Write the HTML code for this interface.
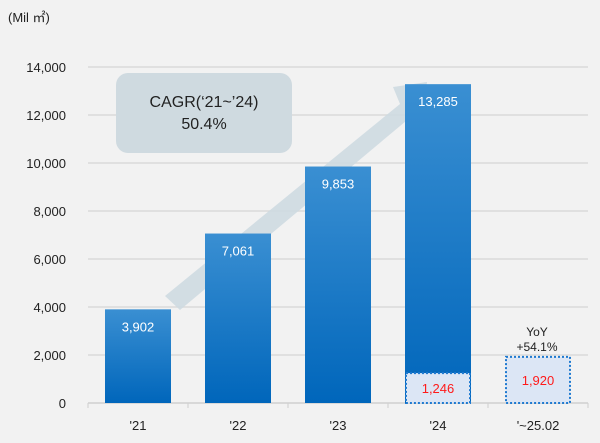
<!DOCTYPE html>
<html><head><meta charset="utf-8"><style>
body{margin:0;background:#f2f2f2;font-family:"Liberation Sans","Noto Sans CJK KR",sans-serif}
svg{display:block}
</style></head><body>
<svg width="600" height="443" viewBox="0 0 600 443">
<defs><linearGradient id="g" x1="0" y1="0" x2="0" y2="1"><stop offset="0" stop-color="#3a8fd2"/><stop offset="1" stop-color="#0066bb"/></linearGradient></defs>
<rect width="600" height="443" fill="#f2f2f2"/>
<text x="8" y="22" font-size="13" fill="#222">(Mil ㎡)</text>
<g id="grid"></g>
<g id="yt"></g>
<polygon points="165,296 400,104 393,87 427,82 420,132 412,116 180,310" fill="#cdd9e0" opacity="0.85"/>
<rect x="116" y="73" width="176" height="80" rx="12" fill="#cfdae0"/>
<text x="204" y="107" font-size="16" text-anchor="middle" fill="#222">CAGR(‘21~’24)</text>
<text x="204" y="129" font-size="16" text-anchor="middle" fill="#222">50.4%</text>
<g id="bars"></g>
<g id="xt"></g>
<text x="537" y="336" font-size="12" text-anchor="middle" fill="#222">YoY</text>
<text x="537" y="351" font-size="12" text-anchor="middle" fill="#222">+54.1%</text>
</svg>
<script>
const categories=["'21","'22","'23","'24","'~25.02"];
const totals=[3902,7061,9853,13285,null];
const partial=[null,null,null,1246,1920];
const yTicks=[0,2000,4000,6000,8000,10000,12000,14000];
const NS="http://www.w3.org/2000/svg";
const x0=88,bw=100,barW=66,yBase=403,yTop=67,yMax=14000;
const y=v=>yBase-(v/yMax)*(yBase-yTop);
const xc=i=>x0+bw*i+bw/2;
function mk(t,a,p,txt){const e=document.createElementNS(NS,t);for(const k in a)e.setAttribute(k,a[k]);if(txt!=null)e.textContent=txt;p.appendChild(e);return e;}
const grid=document.getElementById('grid'),yt=document.getElementById('yt'),bars=document.getElementById('bars'),xt=document.getElementById('xt');
yTicks.forEach(v=>{
 const l=mk('line',{x1:x0,x2:588,y1:y(v),y2:y(v),stroke:v===0?'#cfcfcf':'#d9d9d9','stroke-width':1.5},grid);
 
 
 const t=mk('text',{x:66,y:y(v)+5,'font-size':13,'text-anchor':'end',fill:'#222'},yt,v.toLocaleString('en-US'));
 
 
});
for(let i=0;i<=categories.length;i++){
 const l=mk('line',{x1:x0+bw*i,x2:x0+bw*i,y1:yBase,y2:yBase+5,stroke:'#cfcfcf'},xt);
 
 
}
categories.forEach((c,i)=>{
 const t=mk('text',{x:xc(i),y:430,'font-size':13,'text-anchor':'middle',fill:'#222'},xt,c);
 
 
 const bx=xc(i)-barW/2;
 if(totals[i]!=null){
  const r=mk('rect',{x:bx,y:y(totals[i]),width:barW,height:yBase-y(totals[i]),fill:'url(#g)'},bars);
  
  
  const t2=mk('text',{x:xc(i),y:y(totals[i])+22,'font-size':13,'text-anchor':'middle',fill:'#fff'},bars,totals[i].toLocaleString('en-US'));
  
  
 }
 if(partial[i]!=null){
  const r=mk('rect',{x:bx+1,y:y(partial[i]),width:barW-2,height:yBase-y(partial[i]),fill:'#dce6f5',stroke:'#1f7ad0','stroke-width':2,'stroke-dasharray':'2,2'},bars);
  
  
  const t3=mk('text',{x:xc(i),y:(y(partial[i])+yBase)/2+5,'font-size':13,'text-anchor':'middle',fill:'#ff1a1a'},bars,partial[i].toLocaleString('en-US'));
  
  
 }
});
</script>
</body></html>
